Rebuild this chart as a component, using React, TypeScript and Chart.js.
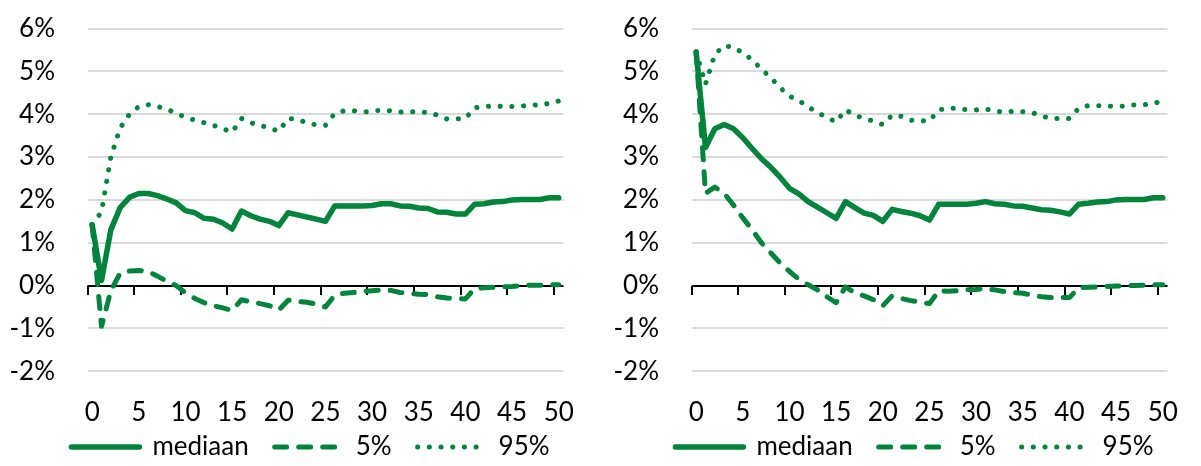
import React, { useEffect, useRef } from 'react';
import { Chart, registerables } from 'chart.js';

Chart.register(...registerables);

// ---------- data ----------
const YEARS = [
  0, 1, 2, 3, 4, 5, 6, 7, 8, 9, 10, 11, 12, 13, 14, 15, 16, 17, 18, 19, 20, 21, 22, 23, 24, 25,
  26, 27, 28, 29, 30, 31, 32, 33, 34, 35, 36, 37, 38, 39, 40, 41, 42, 43, 44, 45, 46, 47, 48, 49, 50,
];
const X_TICKS = [0, 5, 10, 15, 20, 25, 30, 35, 40, 45, 50];
const Y_MIN = -2;
const Y_MAX = 6;
const Y_STEP = 1;
const SERIES_NAMES = ['mediaan', '5%', '95%'];

const LEFT_MEDIAAN = [
  1.42, 0.12, 1.3, 1.82, 2.06, 2.15, 2.15, 2.1, 2.02, 1.93,
  1.75, 1.7, 1.57, 1.55, 1.46, 1.32, 1.74, 1.63, 1.55, 1.5,
  1.4, 1.7, 1.65, 1.6, 1.55, 1.5, 1.86, 1.86, 1.86, 1.86,
  1.87, 1.91, 1.91, 1.86, 1.85, 1.81, 1.8, 1.72, 1.71, 1.67,
  1.67, 1.9, 1.91, 1.95, 1.96, 2.0, 2.01, 2.01, 2.01, 2.05, 2.05,
];
const LEFT_P5 = [
  1.42, -0.95, -0.12, 0.29, 0.34, 0.35, 0.33, 0.22, 0.1, 0.0,
  -0.17, -0.3, -0.4, -0.47, -0.52, -0.58, -0.33, -0.38, -0.42, -0.47,
  -0.57, -0.34, -0.37, -0.39, -0.43, -0.5, -0.22, -0.18, -0.16, -0.14,
  -0.12, -0.1, -0.11, -0.16, -0.18, -0.2, -0.21, -0.26, -0.29, -0.3,
  -0.31, -0.07, -0.05, -0.04, -0.03, -0.02, 0.0, 0.01, 0.01, 0.02, 0.02,
];
const LEFT_P95 = [
  1.42, 1.72, 3.0, 3.68, 4.0, 4.18, 4.22, 4.18, 4.12, 4.02,
  3.93, 3.86, 3.8, 3.74, 3.66, 3.58, 3.9, 3.8, 3.74, 3.68,
  3.6, 3.9, 3.88, 3.8, 3.75, 3.74, 4.02, 4.08, 4.08, 4.06,
  4.06, 4.1, 4.08, 4.05, 4.06, 4.06, 4.04, 3.98, 3.89, 3.89,
  3.9, 4.15, 4.18, 4.19, 4.18, 4.18, 4.19, 4.21, 4.22, 4.25, 4.31,
];

const RIGHT_MEDIAAN = [
  5.45, 3.22, 3.66, 3.76, 3.66, 3.45, 3.2, 2.96, 2.76, 2.53,
  2.27, 2.14, 1.96, 1.83, 1.7, 1.57, 1.96, 1.82, 1.69, 1.64,
  1.5, 1.78, 1.73, 1.69, 1.63, 1.53, 1.9, 1.9, 1.9, 1.9,
  1.92, 1.96, 1.91, 1.9, 1.86, 1.85, 1.81, 1.77, 1.76, 1.72,
  1.67, 1.9, 1.92, 1.95, 1.96, 2.0, 2.01, 2.01, 2.01, 2.05, 2.05,
];
const RIGHT_P5 = [
  5.45, 2.15, 2.3, 2.15, 1.88, 1.58, 1.3, 1.0, 0.76, 0.53,
  0.33, 0.15, 0.02, -0.1, -0.26, -0.4, -0.03, -0.17, -0.24, -0.33,
  -0.47, -0.24, -0.3, -0.35, -0.39, -0.42, -0.12, -0.13, -0.12, -0.1,
  -0.09, -0.07, -0.1, -0.14, -0.16, -0.18, -0.22, -0.26, -0.28, -0.28,
  -0.28, -0.05, -0.04, -0.03, -0.02, -0.01, 0.0, 0.0, 0.01, 0.02, 0.02,
];
const RIGHT_P95 = [
  5.45, 4.7, 5.4, 5.6, 5.56, 5.43, 5.27, 5.05, 4.85, 4.62,
  4.42, 4.32, 4.17, 4.04, 3.92, 3.82, 4.1, 3.98, 3.9, 3.84,
  3.76, 3.98, 3.95, 3.86, 3.85, 3.84, 4.1, 4.14, 4.14, 4.1,
  4.1, 4.12, 4.08, 4.04, 4.07, 4.06, 4.04, 3.96, 3.9, 3.9,
  3.9, 4.14, 4.2, 4.2, 4.19, 4.18, 4.19, 4.22, 4.22, 4.25, 4.31,
];

// ---------- styling ----------
const GREEN = '#00843d';
const FONT_FAMILY = 'Lato, "Open Sans", "DejaVu Sans", sans-serif';
const FONT_SIZE = 26;
const LEGEND_SHIFT = 20;

const zeroAxisPlugin = {
  id: 'zeroAxis',
  afterLayout(chart: any) {
    // centre the legend like the reference and let the x labels extend below the axis box
    const lg = chart.legend;
    if (lg) {
      lg.left += LEGEND_SHIFT;
      lg.right += LEGEND_SHIFT;
    }
    const xs = chart.scales && chart.scales.x;
    if (xs) xs.bottom = chart.height;
  },
  beforeDatasetsDraw(chart: any) {
    const { ctx, chartArea, scales } = chart;
    const x = scales.x;
    const y = scales.y;
    const y0 = Math.round(y.getPixelForValue(0));
    ctx.save();
    ctx.strokeStyle = '#000000';
    ctx.lineWidth = 2;
    ctx.beginPath();
    ctx.moveTo(chartArea.left, y0);
    ctx.lineTo(chartArea.right, y0);
    for (const t of X_TICKS) {
      const px = Math.round(x.getPixelForValue(t - 0.5));
      ctx.moveTo(px, y0);
      ctx.lineTo(px, y0 + 9);
    }
    ctx.stroke();
    ctx.restore();
  },
};

function makeConfig(median: number[], p5: number[], p95: number[]): any {
  const common = {
    borderColor: GREEN,
    backgroundColor: GREEN,
    pointRadius: 0,
    pointHoverRadius: 0,
    borderCapStyle: 'round',
    borderJoinStyle: 'round',
    tension: 0,
    fill: false,
  };
  return {
    type: 'line',
    data: {
      labels: YEARS,
      datasets: [
        { ...common, label: SERIES_NAMES[0], data: median, borderWidth: 5.5 },
        { ...common, label: SERIES_NAMES[1], data: p5, borderWidth: 5, borderDash: [12, 12] },
        { ...common, label: SERIES_NAMES[2], data: p95, borderWidth: 5, borderDash: [0.1, 11.6] },
      ],
    },
    options: {
      responsive: false,
      animation: false,
      devicePixelRatio: 1,
      events: [],
      layout: { padding: { left: 0, right: 19, top: 28.5, bottom: -4 } },
      plugins: {
        tooltip: { enabled: false },
        title: { display: false },
        legend: {
          display: true,
          position: 'bottom',
          labels: {
            usePointStyle: true,
            pointStyle: 'line',
            pointStyleWidth: 68,
            padding: 26,
            color: '#000000',
            font: { family: FONT_FAMILY, size: FONT_SIZE },
            generateLabels: (chart: any) => {
              const base = Chart.defaults.plugins.legend.labels.generateLabels(chart);
              return base.map((item: any) => {
                const ds = chart.data.datasets[item.datasetIndex];
                return {
                  ...item,
                  pointStyle: 'line',
                  strokeStyle: GREEN,
                  fillStyle: GREEN,
                  lineWidth: ds.borderWidth,
                  lineDash: ds.borderDash || [],
                  lineDashOffset: 0,
                  lineCap: 'round',
                  lineJoin: 'round',
                };
              });
            },
          },
        },
      },
      scales: {
        x: {
          type: 'linear',
          min: -0.5,
          max: 50.5,
          grid: { display: false, drawTicks: false },
          border: { display: false },
          afterBuildTicks: (scale: any) => {
            scale.ticks = X_TICKS.map((v) => ({ value: v }));
          },
          afterFit: (scale: any) => {
            scale.height = 36.7;
          },
          ticks: {
            autoSkip: false,
            maxRotation: 0,
            minRotation: 0,
            padding: 26,
            color: '#000000',
            font: { family: FONT_FAMILY, size: FONT_SIZE },
            callback: (v: any) => String(v),
          },
        },
        y: {
          type: 'linear',
          min: Y_MIN,
          max: Y_MAX,
          grid: {
            color: '#d9d9d9',
            lineWidth: 2,
            drawTicks: true,
            tickLength: 32.5,
            tickColor: 'rgba(0,0,0,0)',
          },
          border: { display: false },
          afterFit: (scale: any) => {
            scale.width = 87.5;
          },
          ticks: {
            stepSize: Y_STEP,
            padding: 0,
            color: '#000000',
            font: { family: FONT_FAMILY, size: FONT_SIZE },
            callback: (v: any) => `${v}%`,
          },
        },
      },
    },
    plugins: [zeroAxisPlugin],
  };
}

function LineChart({ median, p5, p95, left }: { median: number[]; p5: number[]; p95: number[]; left: number }) {
  const ref = useRef<HTMLCanvasElement | null>(null);
  useEffect(() => {
    if (!ref.current) return;
    const chart = new Chart(ref.current, makeConfig(median, p5, p95));
    return () => chart.destroy();
  }, [median, p5, p95]);
  return (
    <canvas
      ref={ref}
      width={600}
      height={466}
      style={{ position: 'absolute', left, top: 0, width: 600, height: 466, display: 'block' }}
    />
  );
}

export default function App() {
  return (
    <div
      style={{
        position: 'absolute',
        left: 0,
        top: 0,
        width: 1201,
        height: 466,
        overflow: 'hidden',
        background: '#ffffff',
      }}
    >
      <LineChart median={LEFT_MEDIAAN} p5={LEFT_P5} p95={LEFT_P95} left={0} />
      <LineChart median={RIGHT_MEDIAAN} p5={RIGHT_P5} p95={RIGHT_P95} left={604} />
    </div>
  );
}
